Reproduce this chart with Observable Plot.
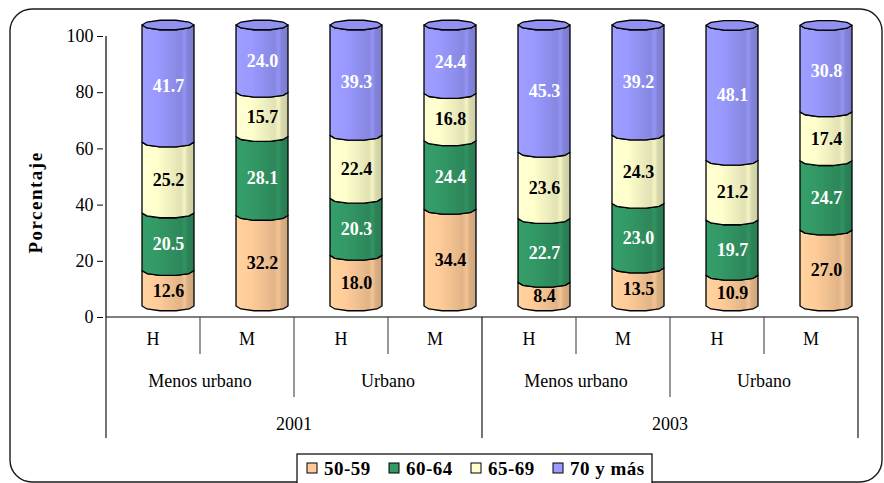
<!DOCTYPE html>
<html>
<head>
<meta charset="utf-8">
<script src="https://cdn.jsdelivr.net/npm/d3@7"></script>
<script src="https://cdn.jsdelivr.net/npm/@observablehq/plot@0.6"></script>
<style>
  html, body { margin: 0; padding: 0; background: #fff; }
  #chart { width: 884px; height: 483px; overflow: hidden; }
</style>
</head>
<body>
<div id="chart"></div>
<script>
// Categories (bar order: year > zone > sex)
const years = ["2001", "2003"];
const zones = ["Menos urbano", "Urbano"];
const sexes = ["H", "M"];
const ageGroups = ["50-59", "60-64", "65-69", "70 y más"];
const ageColors = ["#FFCC99", "#339966", "#FFFFCC", "#9999FF"];
const darkLabelGroups = ["50-59", "65-69"];

// Percentage of each age group, one value per bar
const share5059 = [12.6, 32.2, 18.0, 34.4, 8.4, 13.5, 10.9, 27.0];
const share6064 = [20.5, 28.1, 20.3, 24.4, 22.7, 23.0, 19.7, 24.7];
const share6569 = [25.2, 15.7, 22.4, 16.8, 23.6, 24.3, 21.2, 17.4];
const share70 = [41.7, 24.0, 39.3, 24.4, 45.3, 39.2, 48.1, 30.8];

const yTicks = [0, 20, 40, 60, 80, 100];

// Bar keys and stacked rows
const bars = [];
for (const year of years) for (const zone of zones) for (const sex of sexes)
  bars.push({key: `${year}|${zone}|${sex}`, year, zone, sex});

const series = [share5059, share6064, share6569, share70];
const rows = [];
bars.forEach((b, i) => {
  let base = 0;
  series.forEach((s, j) => {
    rows.push({key: b.key, group: ageGroups[j], gi: j, value: s[i], y1: base, y2: base + s[i]});
    base += s[i];
  });
});

// 3D look of the cylinders
const DX = 15, DY = -11, HALF_W = 26, RY = 5, FACETS = 10;
const FONT = "Liberation Serif, Times New Roman, DejaVu Serif, serif";

function gradientStops(base) {
  const c = (k) => (k >= 0 ? d3.color(base).darker(k) : d3.color(base).brighter(-k)).formatHex();
  return [[0, c(-0.1)], [0.3, base], [0.74, c(0.35)], [0.82, c(0.12)], [0.88, c(0.45)], [1, c(0.62)]];
}

function frameMark(index, scales, values, dims) {
  const g = d3.create("svg:g");
  g.append("rect")
    .attr("x", 10).attr("y", 9)
    .attr("width", dims.width - 12).attr("height", dims.height - 10)
    .attr("rx", 22)
    .attr("fill", "none").attr("stroke", "#1a1a1a").attr("stroke-width", 1.4);
  return g.node();
}

function cylinders(index, {x, y}) {
  const bw = x.bandwidth();
  const g = d3.create("svg:g");
  const defs = g.append("defs");
  ageColors.forEach((col, j) => {
    const lg = defs.append("linearGradient").attr("id", `cyl-${j}`)
      .attr("x1", 0).attr("x2", 1).attr("y1", 0).attr("y2", 0);
    for (const [o, c] of gradientStops(col)) lg.append("stop").attr("offset", o).attr("stop-color", c);
  });
  const arc = (cx, cy, from, to) => {
    const pts = [];
    const n = FACETS / 2;
    for (let k = 0; k <= n; k++) {
      const t = from + (to - from) * k / n;
      pts.push([cx + HALF_W * Math.cos(t), cy + RY * Math.sin(t)]);
    }
    return pts;
  };
  for (const b of bars) {
    const cx = x(b.key) + bw / 2 + DX;
    const segs = rows.filter(r => r.key === b.key);
    for (const s of segs) {
      const yTop = y(s.y2) + DY, yBot = y(s.y1) + DY;
      const pts = [...arc(cx, yTop, Math.PI, 0), ...arc(cx, yBot, 0, Math.PI)];
      g.append("path")
        .attr("d", "M" + pts.map(p => p.join(",")).join("L") + "Z")
        .attr("fill", `url(#cyl-${s.gi})`)
        .attr("stroke", "#000").attr("stroke-width", 1.3).attr("stroke-linejoin", "round");
    }
    const top = segs[segs.length - 1];
    const yCap = y(top.y2) + DY;
    const cap = [...arc(cx, yCap, 0, Math.PI), ...arc(cx, yCap, Math.PI, 2 * Math.PI).slice(1, -1)];
    g.append("path")
      .attr("d", "M" + cap.map(p => p.join(",")).join("L") + "Z")
      .attr("fill", d3.color(ageColors[top.gi]).darker(0.15).formatHex())
      .attr("stroke", "#000").attr("stroke-width", 1.3).attr("stroke-linejoin", "round");
  }
  return g.node();
}

function categoryAxis(index, {x, y}, values, dims) {
  const bw = x.bandwidth();
  const g = d3.create("svg:g")
    .attr("font-family", FONT).attr("font-size", 18).attr("fill", "#000")
    .attr("text-anchor", "middle");
  const y0 = y(0);
  const left = x(bars[0].key);
  const right = x(bars[bars.length - 1].key) + bw;
  const depth = [0, 37, 80, 121];

  g.append("line").attr("x1", left).attr("x2", right).attr("y1", y0).attr("y2", y0)
    .attr("stroke", "#000").attr("stroke-width", 1.2);
  g.append("line").attr("x1", left).attr("x2", left).attr("y1", y(100)).attr("y2", y0)
    .attr("stroke", "#000").attr("stroke-width", 1.2);

  for (let k = 0; k <= bars.length; k++) {
    const a = bars[k - 1], b = bars[k];
    const level = (!a || !b || a.year !== b.year) ? 3 : a.zone !== b.zone ? 2 : 1;
    const xp = left + k * bw;
    g.append("line").attr("x1", xp).attr("x2", xp).attr("y1", y0).attr("y2", y0 + depth[level])
      .attr("stroke", level === 3 ? "#000" : "#444").attr("stroke-width", 1.1);
  }

  for (const b of bars)
    g.append("text").attr("x", x(b.key) + bw / 2).attr("y", y0 + 28).text(b.sex);

  for (const year of years) {
    for (const zone of zones) {
      const ks = bars.filter(b => b.year === year && b.zone === zone);
      const xm = (x(ks[0].key) + x(ks[ks.length - 1].key) + bw) / 2;
      g.append("text").attr("x", xm).attr("y", y0 + 70).text(zone);
    }
    const ks = bars.filter(b => b.year === year);
    const xm = (x(ks[0].key) + x(ks[ks.length - 1].key) + bw) / 2;
    g.append("text").attr("x", xm).attr("y", y0 + 113).text(year);
  }

  g.append("text")
    .attr("transform", `translate(${dims.marginLeft - 61},${(y(100) + y0) / 2 + 26}) rotate(-90)`)
    .attr("font-weight", "bold").attr("font-size", 19).attr("letter-spacing", 1.5)
    .text("Porcentaje");
  return g.node();
}

function legendMark(index, scales, values, dims) {
  const g = d3.create("svg:g").attr("font-family", FONT).attr("text-anchor", "start");
  const x0 = 297, y0 = dims.height - 29, step = 82;
  g.append("rect").attr("x", x0).attr("y", y0).attr("width", 355).attr("height", 30)
    .attr("fill", "#fff").attr("stroke", "#000").attr("stroke-width", 1.2);
  ageGroups.forEach((name, j) => {
    const ix = x0 + 10 + j * step;
    g.append("rect").attr("x", ix).attr("y", y0 + 9).attr("width", 10).attr("height", 10)
      .attr("fill", ageColors[j]).attr("stroke", "#000").attr("stroke-width", 1);
    g.append("text").attr("x", ix + 17).attr("y", y0 + 21)
      .attr("font-size", 19).attr("font-weight", "bold").attr("letter-spacing", 0.5)
      .attr("fill", "#000")
      .text(name);
  });
  return g.node();
}

const chart = Plot.plot({
  width: 884,
  height: 483,
  marginLeft: 103,
  marginRight: 24,
  marginTop: 36,
  marginBottom: 166,
  style: {fontFamily: FONT, fontSize: "18px", background: "transparent", color: "#000"},
  x: {type: "band", domain: bars.map(b => b.key), padding: 0, axis: null},
  y: {domain: [0, 100]},
  marks: [
    frameMark,
    cylinders,
    Plot.text(rows.filter(r => darkLabelGroups.includes(r.group)), {
      x: "key", y: d => (d.y1 + d.y2) / 2, text: d => d.value.toFixed(1),
      dx: DX, dy: DY + 2, fill: "#000", fontWeight: "bold", fontSize: 18
    }),
    Plot.text(rows.filter(r => !darkLabelGroups.includes(r.group)), {
      x: "key", y: d => (d.y1 + d.y2) / 2, text: d => d.value.toFixed(1),
      dx: DX, dy: DY + 2, fill: "#fff", fontWeight: "bold", fontSize: 18
    }),
    Plot.axisY(yTicks, {tickSize: 6, tickPadding: 4, label: null, fontSize: 18}),
    categoryAxis,
    legendMark
  ]
});

document.getElementById("chart").appendChild(chart);
</script>
</body>
</html>
